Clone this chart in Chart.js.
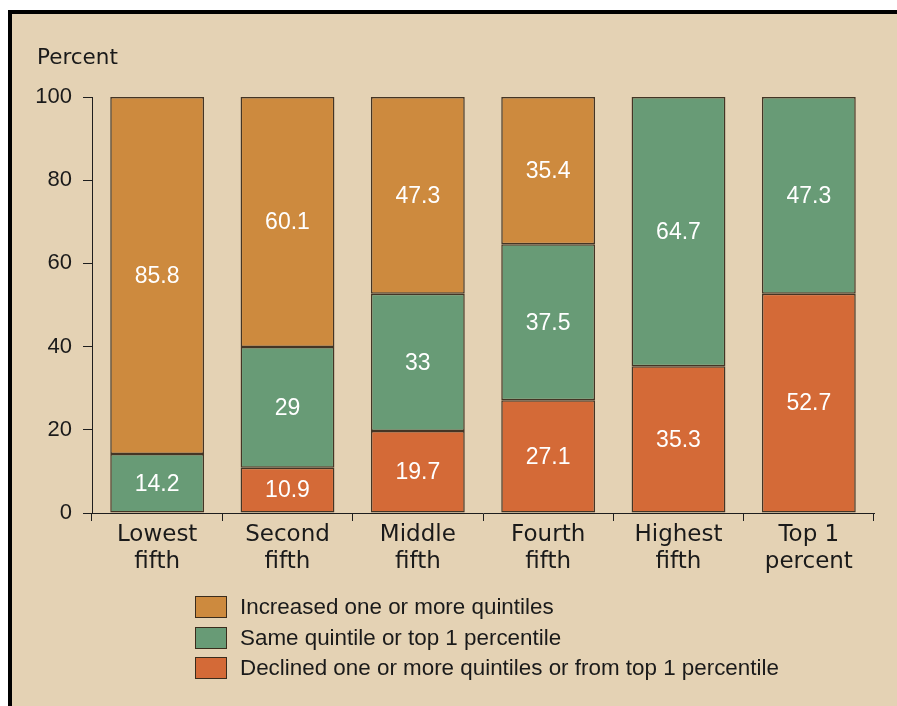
<!DOCTYPE html>
<html>
<head>
<meta charset="utf-8">
<script src="https://cdn.jsdelivr.net/npm/chart.js@4.4.1/dist/chart.umd.min.js"></script>
<style>
  html, body { margin: 0; padding: 0; background: #ffffff; }
  #frame {
    position: absolute; left: 8px; top: 10px; width: 885px; height: 692px;
    background: #e4d2b4; border-top: 4px solid #000; border-left: 4px solid #000;
  }
  #wrap { position: absolute; left: 0; top: 0; width: 897px; height: 706px; }
  #legend { position: absolute; left: 195px; top: 592px; font-family: "Liberation Sans", Arial, sans-serif; font-size: 22.4px; color: #1a1a1a; }
  .row { display: flex; align-items: center; height: 30.5px; }
  .box { width: 30px; height: 20px; border: 1px solid #3a2c1c; margin-right: 13px; box-sizing: content-box; }
</style>
</head>
<body>
<div id="frame"></div>
<div id="wrap"><canvas id="c" width="897" height="706"></canvas></div>
<div id="legend"></div>
<script>
// Income groups along the x axis
const categories = [
  ["Lowest", "fifth"], ["Second", "fifth"], ["Middle", "fifth"],
  ["Fourth", "fifth"], ["Highest", "fifth"], ["Top 1", "percent"]
];
// Share of each group by mobility outcome (percent)
const declined  = [0, 10.9, 19.7, 27.1, 35.3, 52.7];
const same      = [14.2, 29, 33, 37.5, 64.7, 47.3];
const increased = [85.8, 60.1, 47.3, 35.4, 0, 0];
const yTicks = [0, 20, 40, 60, 80, 100];

const seriesNames = [
  "Declined one or more quintiles or from top 1 percentile",
  "Same quintile or top 1 percentile",
  "Increased one or more quintiles"
];
const seriesColors = ["#d46a37", "#689b76", "#cd8a3e"];

const barBorder = "rgba(40,26,12,0.85)";

// White value labels in the middle of each segment
const valueLabels = {
  id: "valueLabels",
  afterDatasetsDraw(chart) {
    const ctx = chart.ctx;
    ctx.save();
    ctx.fillStyle = "#ffffff";
    ctx.font = "23px 'Liberation Sans', Arial, sans-serif";
    ctx.textAlign = "center";
    ctx.textBaseline = "middle";
    chart.data.datasets.forEach((ds, di) => {
      chart.getDatasetMeta(di).data.forEach((bar, i) => {
        const v = ds.data[i];
        if (!v) return;
        const p = bar.getProps(["x", "y", "base"], true);
        ctx.fillText(String(v), p.x, (p.y + p.base) / 2 + 1);
      });
    });
    ctx.restore();
  }
};

// Axis caption above the value axis
const axisCaption = {
  id: "axisCaption",
  afterDraw(chart) {
    const ctx = chart.ctx;
    ctx.save();
    ctx.fillStyle = "#1a1a1a";
    ctx.font = "21.5px 'DejaVu Sans', sans-serif";
    ctx.textAlign = "left";
    ctx.textBaseline = "alphabetic";
    ctx.fillText("Percent", 37, 64);
    ctx.restore();
  }
};

const datasets = [declined, same, increased].map((d, i) => ({
  label: seriesNames[i],
  data: d,
  backgroundColor: seriesColors[i],
  borderColor: barBorder,
  borderWidth: 1.5,
  borderSkipped: false,
  barPercentage: 0.72,
  categoryPercentage: 1.0
}));

const chart = new Chart(document.getElementById("c"), {
  type: "bar",
  data: { labels: categories, datasets },
  options: {
    responsive: false,
    animation: false,
    layout: { padding: { left: 0, right: 23, top: 97, bottom: 0 } },
    plugins: { legend: { display: false }, tooltip: { enabled: false } },
    scales: {
      x: {
        stacked: true,
        offset: true,
        afterFit(s) { s.height = 193; },
        grid: { offset: true, drawOnChartArea: false, drawTicks: true, tickLength: 8, color: "#1e1e1e", lineWidth: 1 },
        border: { display: true, color: "#1e1e1e", width: 1 },
        ticks: {
          color: "#1a1a1a",
          padding: 0,
          maxRotation: 0,
          font: { family: "'DejaVu Sans', sans-serif", size: 23, lineHeight: 1.2 }
        }
      },
      y: {
        stacked: true,
        min: 0, max: 100,
        afterFit(s) { s.width = 92; },
        afterBuildTicks(s) { s.ticks = yTicks.map(v => ({ value: v })); },
        grid: { drawOnChartArea: false, drawTicks: true, tickLength: 9, color: "#1e1e1e", lineWidth: 1 },
        border: { display: true, color: "#1e1e1e", width: 1 },
        ticks: {
          color: "#1a1a1a",
          padding: 11,
          font: { family: "'Liberation Sans', Arial, sans-serif", size: 22 }
        }
      }
    }
  },
  plugins: [valueLabels, axisCaption]
});

// Legend listed top-down in stacking order from the top segment
const legend = document.getElementById("legend");
chart.data.datasets.slice().reverse().forEach(ds => {
  const row = document.createElement("div");
  row.className = "row";
  const box = document.createElement("div");
  box.className = "box";
  box.style.background = ds.backgroundColor;
  const txt = document.createElement("span");
  txt.textContent = ds.label;
  row.appendChild(box);
  row.appendChild(txt);
  legend.appendChild(row);
});
</script>
</body>
</html>
